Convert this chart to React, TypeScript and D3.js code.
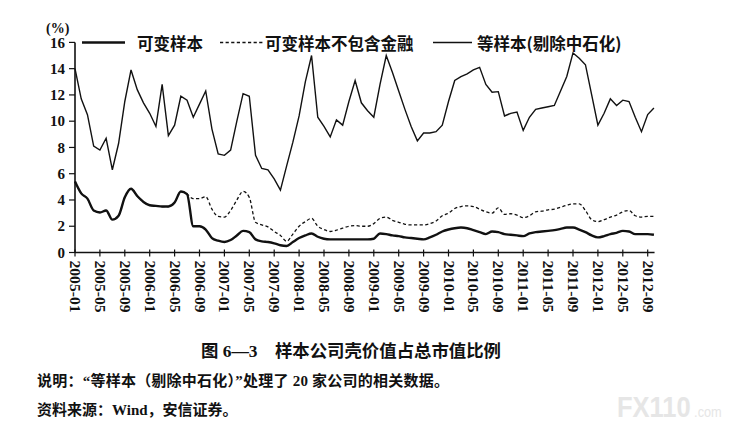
import React, { useMemo } from "react";
import * as d3 from "d3";

const WIDTH = 744;
const HEIGHT = 430;
const PLOT = { left: 75, right: 647.7, top: 42.4, bottom: 252.5 };

// monthly observations 2005-01 .. 2012-10
const START_YEAR = 2005;
const MONTH_COUNT = 94;

// 等样本(剔除中石化)
const equalSample = [
  14.0, 11.7, 10.5, 8.1, 7.8, 8.7, 6.3, 8.3, 11.5, 13.9, 12.4, 11.4,
  10.6, 9.6, 12.8, 8.9, 9.7, 11.9, 11.6, 10.3, 11.3, 12.3, 9.4, 7.5,
  7.4, 7.8, 10.0, 12.1, 11.9, 7.4, 6.4, 6.3, 5.6, 4.75, 6.6, 8.4,
  10.4, 13.0, 15.0, 10.3, 9.6, 8.8, 10.1, 9.7, 11.5, 13.1, 11.4, 10.8,
  10.3, 12.8, 15.0, 13.7, 12.3, 10.9, 9.6, 8.5, 9.1, 9.1, 9.2, 9.7,
  11.5, 13.1, 13.4, 13.6, 13.9, 14.1, 12.8, 12.2, 12.25, 10.4, 10.6, 10.7,
  9.3, 10.3, 10.9, 11.0, 11.1, 11.2, 12.3, 13.4, 15.2, 14.8, 14.3, 12.0,
  9.7, 10.6, 11.7, 11.2, 11.6, 11.5, 10.3, 9.2, 10.5, 11.0,
];

// 可变样本
const variableSample = [
  5.4, 4.5, 4.1, 3.2, 3.05, 3.2, 2.5, 2.8, 4.2, 4.85, 4.3, 3.85,
  3.6, 3.55, 3.5, 3.5, 3.8, 4.65, 4.45, 2.0, 2.0, 1.75, 1.1, 0.9,
  0.8, 0.95, 1.3, 1.65, 1.55, 1.0, 0.85, 0.8, 0.7, 0.55, 0.5, 0.8,
  1.1, 1.3, 1.45, 1.2, 1.05, 1.0, 1.0, 1.0, 1.0, 1.0, 1.0, 1.0,
  1.05, 1.45, 1.4, 1.3, 1.25, 1.15, 1.1, 1.05, 1.0, 1.15, 1.35, 1.6,
  1.75, 1.85, 1.9, 1.85, 1.7, 1.55, 1.4, 1.6, 1.55, 1.4, 1.35, 1.3,
  1.25, 1.45, 1.55, 1.6, 1.65, 1.7, 1.8, 1.9, 1.9, 1.75, 1.55, 1.3,
  1.15, 1.25, 1.4, 1.5, 1.65, 1.6, 1.4, 1.4, 1.4, 1.35,
];

// 可变样本不包含金融
const variableExFinance = [
  5.4, 4.5, 4.1, 3.2, 3.05, 3.2, 2.5, 2.8, 4.2, 4.85, 4.3, 3.85,
  3.6, 3.55, 3.5, 3.5, 3.8, 4.65, 4.45, 4.1, 4.1, 4.25, 3.3, 2.75,
  2.7, 3.2, 4.0, 4.65, 4.2, 2.3, 2.1, 1.95, 1.6, 1.3, 0.85, 1.4,
  2.0, 2.35, 2.6, 2.0, 1.75, 1.6, 1.7, 1.85, 2.0, 2.05, 2.0, 2.0,
  2.2, 2.6, 2.7, 2.45, 2.3, 2.15, 2.1, 2.1, 2.1, 2.2, 2.4, 2.8,
  3.0, 3.35, 3.5, 3.55, 3.5, 3.3, 3.1, 3.0, 3.4, 2.9, 2.95, 2.85,
  2.65, 2.8, 3.1, 3.15, 3.25, 3.3, 3.45, 3.6, 3.7, 3.7, 3.2, 2.5,
  2.35, 2.5, 2.7, 2.85, 3.1, 3.2, 2.8, 2.7, 2.75, 2.75,
];

const xTickLabels = [
  "2005-01", "2005-05", "2005-09", "2006-01", "2006-05", "2006-09",
  "2007-01", "2007-05", "2007-09", "2008-01", "2008-05", "2008-09",
  "2009-01", "2009-05", "2009-09", "2010-01", "2010-05", "2010-09",
  "2011-01", "2011-05", "2011-09", "2012-01", "2012-05", "2012-09",
];
const yTicks = [0, 2, 4, 6, 8, 10, 12, 14, 16];

const legendItems = [
  { label: "可变样本", width: 2.6, dash: "" },
  { label: "可变样本不包含金融", width: 1.3, dash: "3.2,2.4" },
  { label: "等样本(剔除中石化)", width: 1.3, dash: "" },
];

const CJK = "'Noto Sans CJK SC', sans-serif";
const SERIF = "'Liberation Serif', 'Noto Sans CJK SC', serif";

const monthIndex = (label: string) => {
  const [y, m] = label.split("-").map(Number);
  return (y - START_YEAR) * 12 + (m - 1);
};

export default function App() {
  const xScale = useMemo(
    () => d3.scaleLinear().domain([0, 92]).range([PLOT.left, PLOT.right]),
    []
  );
  const yScale = useMemo(
    () => d3.scaleLinear().domain([0, 16]).range([PLOT.bottom, PLOT.top]),
    []
  );

  const straight = d3
    .line<number>()
    .x((_, i) => xScale(i))
    .y((d) => yScale(d));
  const smooth = d3
    .line<number>()
    .x((_, i) => xScale(i))
    .y((d) => yScale(d))
    .curve(d3.curveMonotoneX);

  const axisEnd = xScale(MONTH_COUNT - 0.9);

  return (
    <svg
      width={WIDTH}
      height={HEIGHT}
      style={{ position: "absolute", left: 0, top: 0, background: "#fff" }}
    >
      {/* series */}
      <path d={smooth(variableExFinance) ?? ""} fill="none" stroke="#111" strokeWidth={1.3} strokeDasharray="3.2,2.4" />
      <path d={straight(equalSample) ?? ""} fill="none" stroke="#111" strokeWidth={1.4} strokeLinejoin="miter" />
      <path d={smooth(variableSample) ?? ""} fill="none" stroke="#111" strokeWidth={2.4} />

      {/* y axis */}
      <line x1={PLOT.left} x2={PLOT.left} y1={PLOT.top} y2={PLOT.bottom} stroke="#111" strokeWidth={1.6} />
      {yTicks.map((t) => (
        <g key={t} transform={`translate(0,${yScale(t)})`}>
          <line x1={PLOT.left - 6} x2={PLOT.left} stroke="#111" strokeWidth={1.2} />
          <text
            x={PLOT.left - 10}
            dy="0.35em"
            textAnchor="end"
            fontFamily={SERIF}
            fontWeight="bold"
            fontSize={15}
            fill="#111"
          >
            {t}
          </text>
        </g>
      ))}
      <text x={46} y={33} fontFamily={SERIF} fontWeight="bold" fontSize={14} fill="#111">
        (%)
      </text>

      {/* x axis */}
      <line x1={PLOT.left} x2={axisEnd} y1={PLOT.bottom} y2={PLOT.bottom} stroke="#111" strokeWidth={1.4} />
      {xTickLabels.map((lab) => {
        const x = xScale(monthIndex(lab));
        return (
          <g key={lab} transform={`translate(${x},${PLOT.bottom})`}>
            <line y1={-3} y2={4} stroke="#111" strokeWidth={1.2} />
            <text
              transform="translate(0,8) rotate(90)"
              dominantBaseline="central"
              textAnchor="start"
              fontFamily={SERIF}
              fontWeight="bold"
              fontSize={15}
              textLength={52}
              lengthAdjust="spacingAndGlyphs"
              fill="#111"
            >
              {lab}
            </text>
          </g>
        );
      })}

      {/* legend */}
      {[
        { x1: 82, x2: 125, tx: 137 },
        { x1: 220, x2: 263, tx: 265 },
        { x1: 433, x2: 472, tx: 477 },
      ].map((pos, i) => {
        const item = legendItems[i];
        return (
          <g key={item.label}>
            <line
              x1={pos.x1}
              x2={pos.x2}
              y1={42.5}
              y2={42.5}
              stroke="#111"
              strokeWidth={item.width}
              strokeDasharray={item.dash || undefined}
            />
            <text
              x={pos.tx}
              y={43}
              dominantBaseline="central"
              fontFamily={CJK}
              fontWeight="bold"
              fontSize={16.5}
              fill="#111"
            >
              {item.label}
            </text>
          </g>
        );
      })}

      {/* caption */}
      <text x={351} y={357} textAnchor="middle" fontFamily={SERIF} fontWeight="bold" fontSize={17.4} fill="#111">
        图 6—3　样本公司壳价值占总市值比例
      </text>
      <text x={37} y={386} fontFamily={SERIF} fontSize={15} fontWeight="bold" fill="#111" textLength={412} lengthAdjust="spacing">
        说明：“等样本（剔除中石化）”处理了 20 家公司的相关数据。
      </text>
      <text x={37} y={415} fontFamily={SERIF} fontSize={15} fontWeight="bold" fill="#111">
        资料来源：Wind，安信证券。
      </text>

      {/* watermark */}
      <text
        transform="translate(617,417) scale(0.85,1)"
        fontFamily="'Liberation Sans', sans-serif"
        fontWeight="bold"
        fontSize={30}
        fill="#e6e6e6"
      >
        FX110
        <tspan dx={4} fontSize={15} fontWeight="normal">
          .com
        </tspan>
      </text>
    </svg>
  );
}
